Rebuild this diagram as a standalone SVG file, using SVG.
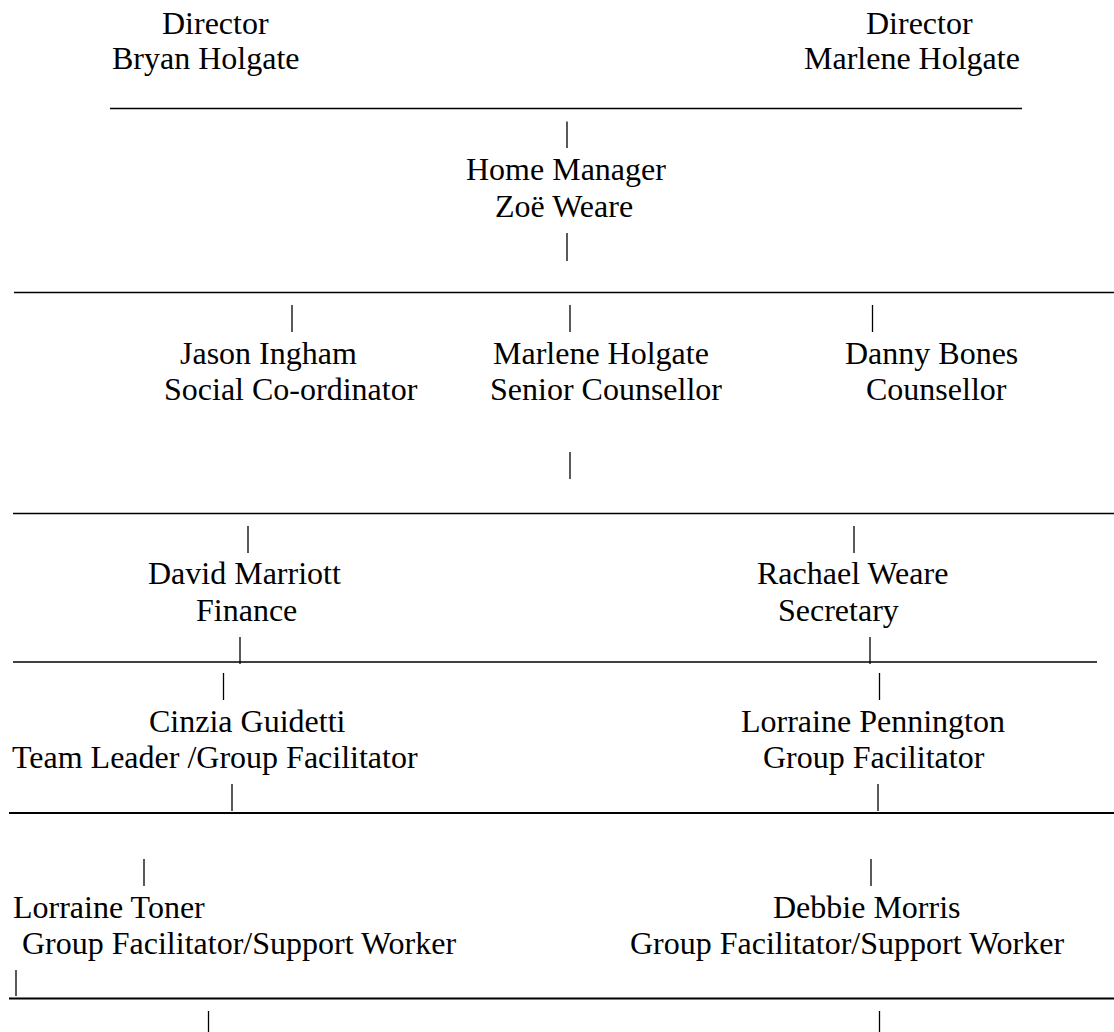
<svg xmlns="http://www.w3.org/2000/svg" width="1114" height="1032" viewBox="0 0 1114 1032">
<style>
text{font-family:"Liberation Serif","Times New Roman",serif;font-size:32px;fill:#000}
.u{stroke:#000;stroke-width:1.4;fill:none}
.s{stroke:#000;stroke-width:2;fill:none}
.p{stroke:#000;stroke-width:1.3;fill:none}
</style>
<rect width="1114" height="1032" fill="#fff"/>
<g id="connectors">
<line class="u" x1="110" y1="108.5" x2="1022" y2="108.5"/>
<line class="u" x1="14" y1="292.5" x2="1114" y2="292.5"/>
<line class="u" x1="13" y1="513.5" x2="1114" y2="513.5"/>
<line class="u" x1="13" y1="662" x2="1097" y2="662"/>
<line class="s" x1="9" y1="813" x2="1114" y2="813"/>
<line class="s" x1="9" y1="998.5" x2="1114" y2="998.5"/>
<line class="p" x1="567" y1="121.5" x2="567" y2="148"/>
<line class="p" x1="567" y1="233" x2="567" y2="261"/>
<line class="p" x1="292" y1="305" x2="292" y2="332"/>
<line class="p" x1="570" y1="305" x2="570" y2="332"/>
<line class="p" x1="872.5" y1="305" x2="872.5" y2="332"/>
<line class="p" x1="570" y1="452" x2="570" y2="479"/>
<line class="p" x1="248" y1="526" x2="248" y2="553"/>
<line class="p" x1="854" y1="526" x2="854" y2="553"/>
<line class="p" x1="240" y1="637" x2="240" y2="664"/>
<line class="p" x1="870" y1="637" x2="870" y2="664"/>
<line class="p" x1="223.5" y1="673" x2="223.5" y2="700"/>
<line class="p" x1="879.5" y1="673" x2="879.5" y2="700"/>
<line class="p" x1="232" y1="784" x2="232" y2="811"/>
<line class="p" x1="878" y1="784" x2="878" y2="811"/>
<line class="p" x1="144" y1="859" x2="144" y2="886"/>
<line class="p" x1="871" y1="859" x2="871" y2="886"/>
<line class="p" x1="16" y1="970" x2="16" y2="996"/>
<line class="p" x1="208.5" y1="1011" x2="208.5" y2="1032"/>
<line class="p" x1="879.5" y1="1011" x2="879.5" y2="1032"/>
</g>
<g id="director-bryan">
<text x="162" y="33.5">Director</text>
<text x="112" y="68.5">Bryan Holgate</text>
</g>
<g id="director-marlene">
<text x="866" y="33.5">Director</text>
<text x="804" y="68.5">Marlene Holgate</text>
</g>
<g id="home-manager">
<text x="466" y="180">Home Manager</text>
<text x="495" y="216.5">Zoë Weare</text>
</g>
<g id="jason-ingham">
<text x="180" y="363.5">Jason Ingham</text>
<text x="164" y="400">Social Co-ordinator</text>
</g>
<g id="marlene-senior">
<text x="493" y="363.5">Marlene Holgate</text>
<text x="490" y="400">Senior Counsellor</text>
</g>
<g id="danny-bones">
<text x="845" y="363.5">Danny Bones</text>
<text x="866" y="400">Counsellor</text>
</g>
<g id="david-marriott">
<text x="148" y="584">David Marriott</text>
<text x="196" y="621">Finance</text>
</g>
<g id="rachael-weare">
<text x="757" y="584">Rachael Weare</text>
<text x="778" y="621">Secretary</text>
</g>
<g id="cinzia-guidetti">
<text x="149" y="732">Cinzia Guidetti</text>
<text x="12" y="768">Team Leader /Group Facilitator</text>
</g>
<g id="lorraine-pennington">
<text x="741" y="732">Lorraine Pennington</text>
<text x="763" y="768">Group Facilitator</text>
</g>
<g id="lorraine-toner">
<text x="13" y="918">Lorraine Toner</text>
<text x="22" y="953.5">Group Facilitator/Support Worker</text>
</g>
<g id="debbie-morris">
<text x="773" y="918">Debbie Morris</text>
<text x="630" y="953.5">Group Facilitator/Support Worker</text>
</g>
</svg>
